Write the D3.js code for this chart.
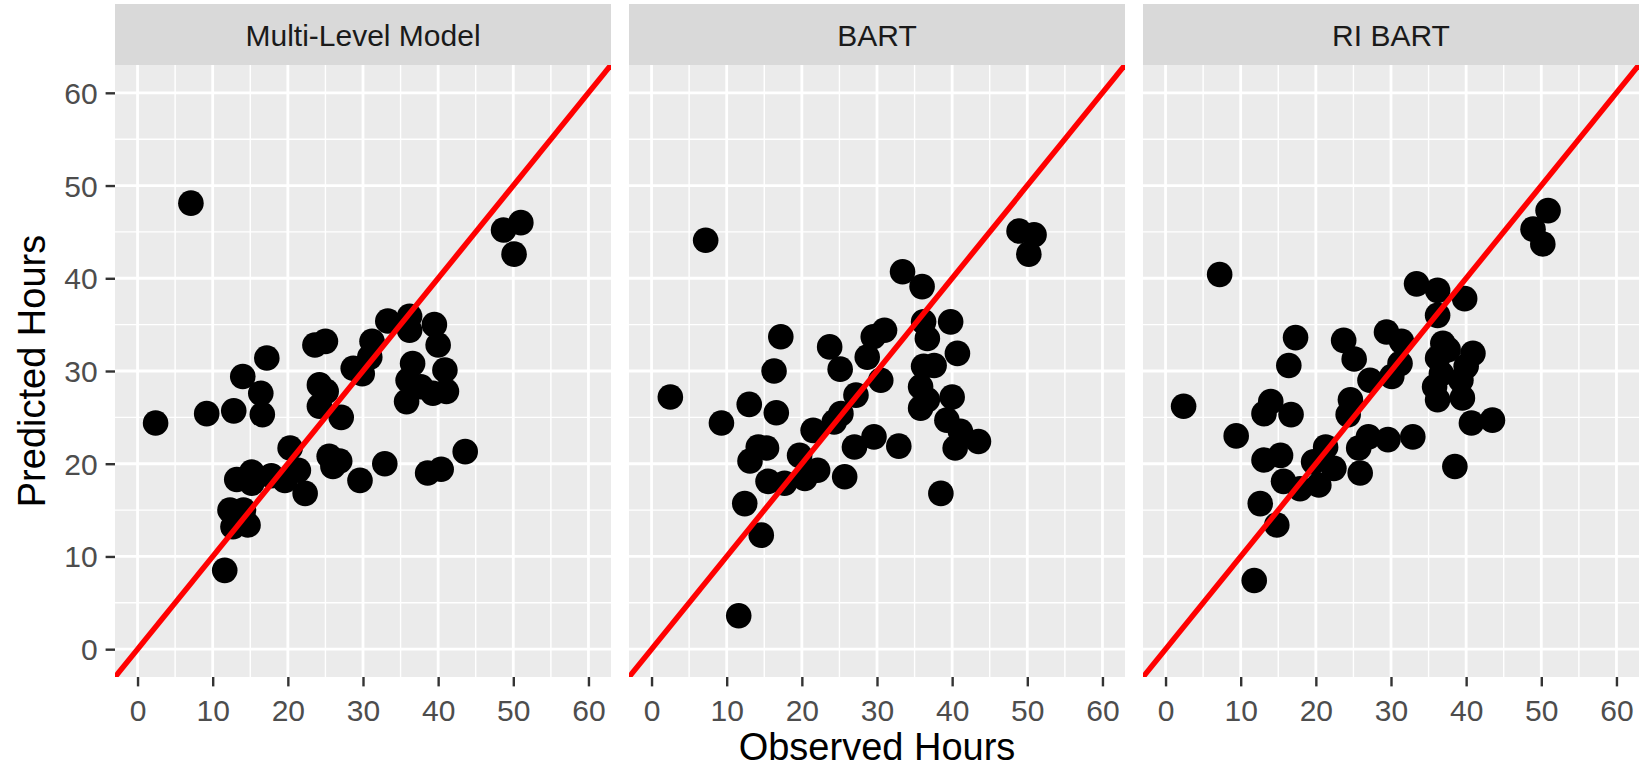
<!DOCTYPE html>
<html>
<head>
<meta charset="utf-8">
<script src="https://cdn.jsdelivr.net/npm/d3@7"></script>
<style>
body{margin:0;background:#fff}
text{font-family:"Liberation Sans",Arial,sans-serif}
</style>
</head>
<body>
<div id="graph"></div>
<script>
"use strict"
var panelNames=['Multi-Level Model','BART','RI BART']
var ticks=[0,10,20,30,40,50,60]
var minorTicks=[5,15,25,35,45,55]

var mlmObs=[2.4,7.1,51.0,48.7,50.1,9.2,12.8,14.0,17.2,16.4,16.6,23.6,25.0,24.2,25.1,24.2,27.1,31.2,30.9,28.7,29.9,33.3,36.2,36.2,39.5,40.0,36.6,40.9,36.0,41.1,39.3,35.8,37.7,20.3,21.4,19.6,22.3,25.5,26.9,26.0,29.6,32.9,38.6,40.4,43.6,13.2,15.2,15.2,17.8,12.3,14.1,12.7,14.7,11.6]
var mlmPred=[24.4,48.1,46.0,45.2,42.6,25.4,25.7,29.4,31.4,27.6,25.3,32.8,33.2,28.5,27.8,26.2,25.0,33.2,31.5,30.3,29.7,35.4,35.9,34.4,35.0,32.8,30.8,30.1,29.0,27.8,27.6,26.7,28.3,21.7,19.3,18.2,16.8,20.8,20.3,19.7,18.2,20.0,19.0,19.4,21.3,18.3,19.1,17.9,18.7,15.0,15.0,13.2,13.4,8.5]

var bartObs=[2.5,7.2,48.9,50.9,50.2,9.3,13.0,17.2,16.3,16.6,14.2,15.3,13.1,15.5,17.7,12.4,14.6,11.6,23.7,25.1,29.5,31.0,28.7,30.5,27.2,25.2,24.3,21.5,19.7,22.1,20.4,27.0,25.7,29.6,32.9,33.4,36.0,36.2,39.8,36.7,40.7,36.2,37.6,35.8,40.0,35.8,39.3,41.1,40.4,43.5,38.5,36.7]
var bartPred=[27.2,44.1,45.1,44.7,42.6,24.4,26.4,33.7,30.0,25.5,21.8,21.7,20.3,18.1,17.9,15.7,12.3,3.6,32.6,30.2,33.7,34.4,31.5,29.0,27.4,25.4,24.5,23.6,20.9,19.3,18.4,21.8,18.6,22.9,21.9,40.7,39.1,35.3,35.3,33.5,31.9,30.5,30.6,28.3,27.2,26.0,24.7,23.5,21.7,22.4,16.8,26.9]

var riObs=[2.4,7.2,50.9,48.9,50.2,9.4,14.0,13.1,16.7,17.3,16.4,13.1,15.3,15.7,17.9,12.6,14.8,11.8,19.7,21.3,22.4,20.4,23.7,25.1,27.2,24.6,24.3,27.0,25.7,25.9,29.6,32.9,29.4,31.4,31.2,30.1,33.4,36.2,39.8,36.2,36.9,40.9,36.2,40.0,37.6,39.3,35.8,36.2,39.5,40.7,43.5,38.5,36.7]
var riPred=[26.2,40.4,47.3,45.3,43.7,23.0,26.7,25.4,25.3,33.6,30.6,20.4,20.9,18.1,17.3,15.7,13.4,7.4,20.2,21.8,19.5,17.7,33.3,31.3,29.0,26.9,25.3,22.9,21.7,19.0,22.6,22.9,34.2,33.2,30.8,29.4,39.4,38.7,37.8,36.0,33.0,31.9,31.4,30.5,32.3,29.0,28.3,26.9,27.1,24.4,24.7,19.7,29.7]

var series=[[mlmObs,mlmPred],[bartObs,bartPred],[riObs,riPred]]

function drawPanel(svg,i,left){
  var top=65,w=496,h=612
  var x=d3.scaleLinear().domain([-3,63]).range([0,w])
  var y=d3.scaleLinear().domain([-3,63]).range([h,0])
  var g=svg.append('g').attr('transform','translate('+left+','+top+')')

  // strip
  svg.append('rect').attr('x',left).attr('y',4).attr('width',w).attr('height',top-4).attr('fill','#d9d9d9')
  svg.append('text').attr('x',left+w/2).attr('y',46).attr('text-anchor','middle').attr('font-size',30).attr('fill','#1a1a1a').text(panelNames[i])

  g.append('rect').attr('width',w).attr('height',h).attr('fill','#ebebeb')
  g.selectAll('.vminor').data(minorTicks).enter().append('line').attr('x1',x).attr('x2',x).attr('y1',0).attr('y2',h).attr('stroke','#fff').attr('stroke-width',1.4)
  g.selectAll('.hminor').data(minorTicks).enter().append('line').attr('y1',y).attr('y2',y).attr('x1',0).attr('x2',w).attr('stroke','#fff').attr('stroke-width',1.4)
  g.selectAll('.vmajor').data(ticks).enter().append('line').attr('x1',x).attr('x2',x).attr('y1',0).attr('y2',h).attr('stroke','#fff').attr('stroke-width',2.8)
  g.selectAll('.hmajor').data(ticks).enter().append('line').attr('y1',y).attr('y2',y).attr('x1',0).attr('x2',w).attr('stroke','#fff').attr('stroke-width',2.8)

  var xa=g.append('g').attr('transform','translate(0,'+h+')').call(d3.axisBottom(x).tickValues(ticks).tickSize(9.4).tickPadding(9))
  xa.select('.domain').remove()
  xa.selectAll('line').attr('stroke','#333').attr('stroke-width',2.4)
  xa.selectAll('text').attr('font-size',30).attr('fill','#4d4d4d').attr('dy','0.85em').attr('font-family','"Liberation Sans",Arial,sans-serif')

  if(i==0){
    var ya=g.append('g').call(d3.axisLeft(y).tickValues(ticks).tickSize(9.4).tickPadding(8))
    ya.select('.domain').remove()
    ya.selectAll('line').attr('stroke','#333').attr('stroke-width',2.4)
    ya.selectAll('text').attr('font-size',30).attr('fill','#4d4d4d').attr('dy','0.35em').attr('font-family','"Liberation Sans",Arial,sans-serif')
  }

  var obs=series[i][0],pred=series[i][1]
  g.selectAll('.pt').data(obs).enter().append('circle').attr('cx',function(d){return x(d)}).attr('cy',function(d,j){return y(pred[j])}).attr('r',12.8).attr('fill','#000')

  svg.append('clipPath').attr('id','clip'+i).append('rect').attr('width',w).attr('height',h)
  g.append('line').attr('x1',x(-3)).attr('y1',y(-3)).attr('x2',x(63)).attr('y2',y(63)).attr('stroke','#ff0000').attr('stroke-width',5.5).attr('clip-path','url(#clip'+i+')')
}

function init(){
  var svg=d3.select('#graph').append('svg').attr('width',1641).attr('height',768)
  var lefts=[115,629,1143]
  for(var i=0;i<3;i++)
    drawPanel(svg,i,lefts[i])
  svg.append('text').attr('x',877).attr('y',760).attr('text-anchor','middle').attr('font-size',38).attr('fill','#000').text('Observed Hours')
  svg.append('text').attr('transform','translate(45,371) rotate(-90)').attr('text-anchor','middle').attr('font-size',38).attr('fill','#000').text('Predicted Hours')
}
init()
</script>
</body>
</html>
